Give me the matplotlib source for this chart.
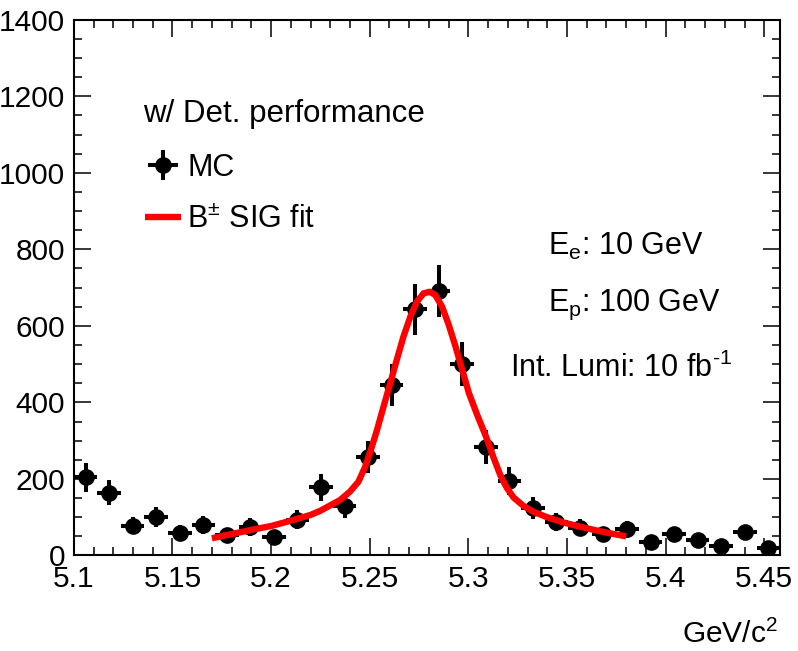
"""B+- invariant mass: MC with detector performance and signal fit."""
import numpy as np
import matplotlib
matplotlib.use("Agg")
import matplotlib.pyplot as plt
from matplotlib.ticker import MultipleLocator, FormatStrFormatter

plt.rcParams["font.family"] = ["Liberation Sans", "DejaVu Sans"]
plt.rcParams["mathtext.fontset"] = "custom"
plt.rcParams["mathtext.rm"] = "Liberation Sans"
plt.rcParams["mathtext.it"] = "Liberation Sans:italic"
plt.rcParams["mathtext.default"] = "regular"

# --- data ---
X_LO, X_HI, N_BINS = 5.1, 5.458, 30   # histogram range / bins in GeV/c^2
mc_counts = [204, 164, 78, 101, 60, 80, 54, 75, 48, 93,
             178, 129, 257, 446, 643, 691, 500, 283, 195, 125,
             87, 73, 55, 68, 36, 55, 40, 26, 61, 19]
mc_errors = [37, 33, 23, 26, 20, 23, 19, 23, 18, 25,
             35, 30, 42, 55, 66, 68, 58, 44, 36, 29,
             24, 22, 19, 21, 16, 19, 16, 13, 20, 11]

fit_x = [5.170, 5.180, 5.190, 5.200, 5.210, 5.220, 5.225, 5.235, 5.240,
         5.2443, 5.2477, 5.2503, 5.2537, 5.2570, 5.2604, 5.2637, 5.2671,
         5.2706, 5.2739, 5.2773, 5.2804, 5.2832, 5.2867, 5.2901, 5.2935,
         5.2969, 5.3003, 5.3045, 5.3090, 5.3129, 5.3162, 5.3196, 5.3230,
         5.3281, 5.3331, 5.3399, 5.3484, 5.3568, 5.3653, 5.3738, 5.380]
fit_y = [45, 56, 67, 77, 91, 106, 117, 145, 167,
         193, 232, 271, 328, 389, 450, 511, 572,
         624, 663, 685, 689, 681, 650, 602, 546,
         485, 424, 367, 310, 254, 210, 176, 151,
         129, 114, 100, 86, 75, 65, 56, 50]

edges = np.linspace(X_LO, X_HI, N_BINS + 1)
centers = 0.5 * (edges[1:] + edges[:-1])
half_w = 0.5 * np.diff(edges)

# --- plot ---
fig = plt.figure(figsize=(7.98, 6.51), dpi=100)
ax = fig.add_axes([0.0925, 0.1467, 0.885, 0.823])

eb = ax.errorbar(centers, mc_counts, yerr=mc_errors, xerr=half_w, fmt="o",
                 color="black", ms=11, elinewidth=2.9, capsize=0, zorder=2)
fit_line, = ax.plot(fit_x, fit_y, color="red", lw=4.6, zorder=3,
                    solid_capstyle="butt", solid_joinstyle="round")

ax.set_xlim(X_LO, X_HI)
ax.set_ylim(0, 1400)
ax.xaxis.set_major_locator(MultipleLocator(0.05))
ax.xaxis.set_minor_locator(MultipleLocator(0.01))
ax.xaxis.set_major_formatter(FormatStrFormatter("%g"))
ax.yaxis.set_major_locator(MultipleLocator(200))
ax.yaxis.set_minor_locator(MultipleLocator(50))

for s in ax.spines.values():
    s.set_linewidth(1.5)
ax.tick_params(which="both", direction="in", top=True, right=True,
               width=1.1, labelsize=21.5)
ax.tick_params(which="major", length=12.5)
ax.tick_params(which="minor", length=6)
ax.tick_params(axis="y", pad=6.3)
ax.tick_params(axis="x", pad=6.5)

ax.text(0.098, 0.8085, "w/ Det. performance", transform=ax.transAxes,
        fontsize=22.5, va="baseline", ha="left")
ax.legend([eb, fit_line], ["MC", r"B$^{\pm}$ SIG fit"], loc="upper left",
          bbox_to_anchor=(0.1008, 0.752), frameon=False, fontsize=22,
          handlelength=1.18, handletextpad=0.21, labelspacing=0.72,
          borderpad=0, borderaxespad=0)

ax.text(0.6715, 0.5608, r"E$_{e}$: 10 GeV", transform=ax.transAxes,
        fontsize=22, va="baseline", ha="left")
ax.text(0.6715, 0.4563, r"E$_{p}$: 100 GeV", transform=ax.transAxes,
        fontsize=22, va="baseline", ha="left")
ax.text(0.6177, 0.3337, r"Int. Lumi: 10 fb$^{\text{-1}}$", transform=ax.transAxes,
        fontsize=22, va="baseline", ha="left")

fig.text(778 / 798, 1 - 643 / 651, r"GeV/c$^{2}$", fontsize=21.5,
         ha="right", va="baseline")

fig.savefig("out.png", dpi=100)
